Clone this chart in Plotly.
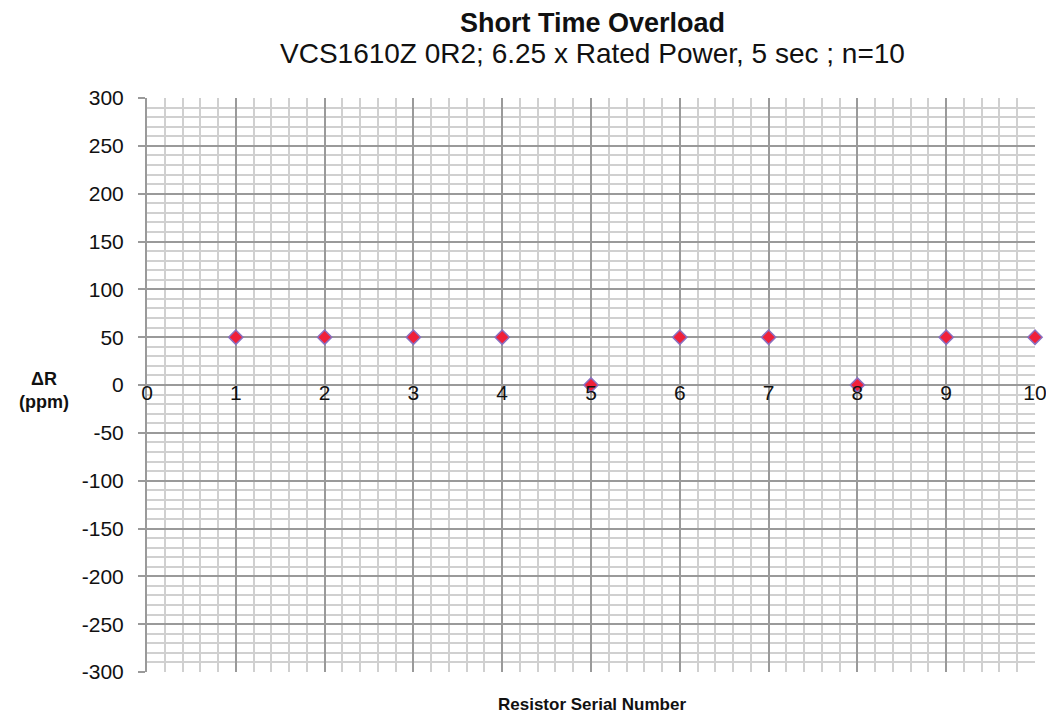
import plotly.graph_objects as go

serial = [1, 2, 3, 4, 5, 6, 7, 8, 9, 10]
delta_r = [50, 50, 50, 50, 0, 50, 50, 0, 50, 50]
x_ticks = [0, 1, 2, 3, 4, 5, 6, 7, 8, 9, 10]
y_ticks = [300, 250, 200, 150, 100, 50, 0, -50, -100, -150, -200, -250, -300]

FONT = "Liberation Sans, Arial, sans-serif"
MAJOR = "#9a9a9a"
MINOR = "#d0d0d0"

W, H = 1046, 717
L, R, T, B = 147, 11, 98, 717 - 672
pw = W - L - R
ph = H - T - B


def px2paper(px, py):
    return (px - L) / pw, 1 - (py - T) / ph


fig = go.Figure()
fig.add_trace(go.Scatter(
    x=serial, y=delta_r, mode="markers",
    marker=dict(symbol="diamond", size=11, color="#f0203a",
                line=dict(color="#8a70c0", width=1.5)),
    cliponaxis=False, showlegend=False,
))

fig.update_layout(
    width=W, height=H,
    margin=dict(l=L, r=R, t=T, b=B, pad=0),
    paper_bgcolor="white", plot_bgcolor="white",
    font=dict(family=FONT, size=21, color="#111"),
    xaxis=dict(
        range=[0, 10], tickvals=x_ticks, ticktext=[str(v) for v in x_ticks],
        anchor="free", position=0.5 + 7 / ph, showline=False,
        showgrid=True, gridcolor=MAJOR, gridwidth=1.5, zeroline=False,
        ticks="", ticklabelstandoff=0, automargin=False,
        ticklabeloverflow="allow",
        minor=dict(dtick=0.2, showgrid=True, gridcolor=MINOR, gridwidth=1.5),
        tickfont=dict(size=21, family=FONT),
    ),
    yaxis=dict(
        range=[-300, 300], tickvals=y_ticks, ticktext=[str(v) for v in y_ticks],
        showline=True, linecolor=MAJOR, linewidth=2, mirror=False,
        showgrid=True, gridcolor=MAJOR, gridwidth=1.5, zeroline=False,
        ticks="outside", ticklen=7, tickcolor=MAJOR, tickwidth=1.5,
        ticklabelstandoff=10, automargin=False,
        minor=dict(dtick=10, showgrid=True, gridcolor=MINOR, gridwidth=1.5),
        tickfont=dict(size=21, family=FONT),
    ),
)

ann = [
    ("<b>Short Time Overload</b>", 592, 23, 27),
    ("VCS1610Z 0R2; 6.25 x Rated Power, 5 sec ; n=10", 592, 53, 28),
    ("<b>Resistor Serial Number</b>", 592, 704, 17),
    ("<b>ΔR<br>(ppm)</b>", 44, 390, 18),
]
for text, px, py, size in ann:
    ax, ay = px2paper(px, py)
    fig.add_annotation(text=text, x=ax, y=ay, xref="paper", yref="paper",
                       xanchor="center", yanchor="middle", showarrow=False,
                       align="center",
                       font=dict(size=size, family=FONT, color="#111"))

fig.write_html(
    "out.html",
    config={"displayModeBar": False},
    post_script="document.body.style.margin='0';document.body.style.overflow='hidden';",
)
